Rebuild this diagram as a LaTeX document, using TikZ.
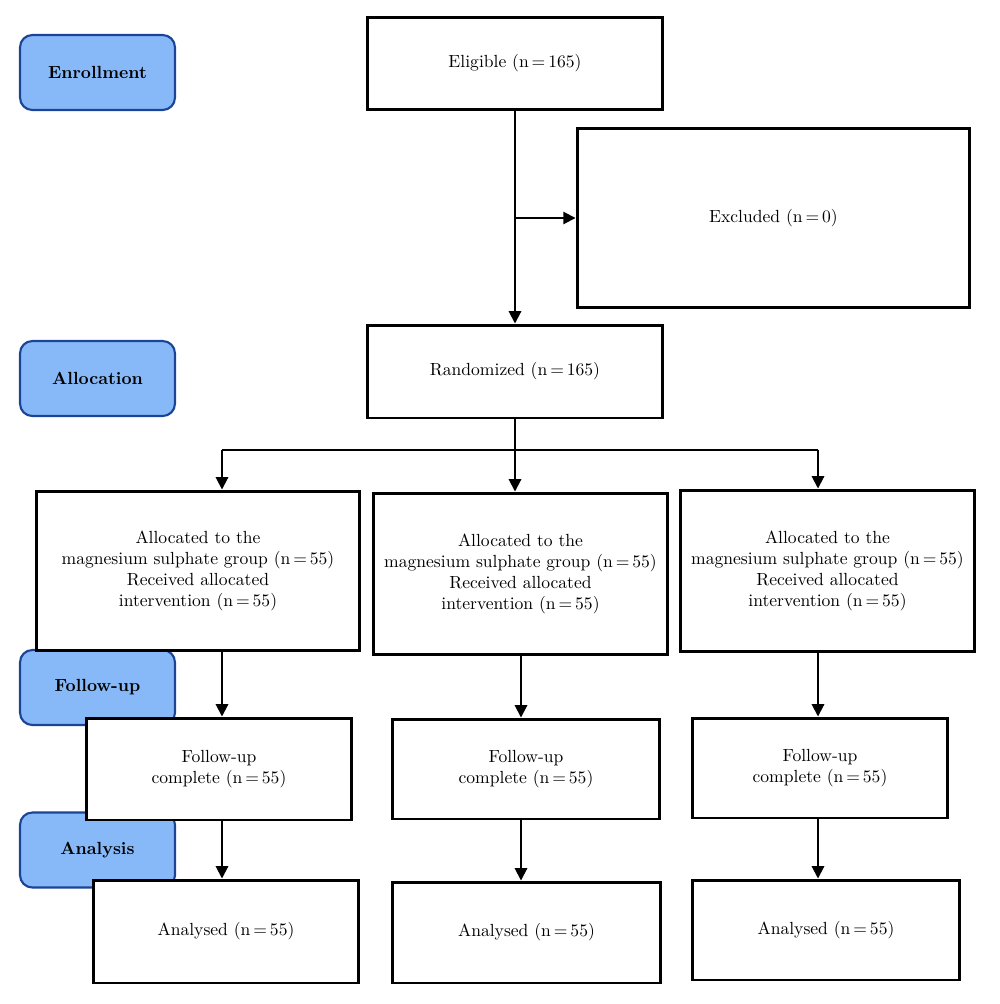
\documentclass[tikz,border=0pt]{standalone}
\usepackage{amsmath}
\usepackage{tikz}
\usetikzlibrary{calc, positioning, arrows.meta}

\definecolor{stagefill}{RGB}{135,185,248}
\definecolor{stageline}{RGB}{28,68,150}

\begin{document}
\begin{tikzpicture}[x=0.02cm, y=-0.02cm,
    stage/.style={rectangle, rounded corners=7pt, fill=stagefill, draw=stageline,
        line width=1.2pt, minimum width=3.1cm, minimum height=1.5cm, font=\bfseries},
    flowbox/.style={rectangle, fill=white, draw=black, line width=1.7pt,
        align=center, inner sep=2pt},
    arr/.style={line width=1.1pt, -{Triangle[width=7pt,length=7pt]}}]
    \useasboundingbox (0,0) rectangle (1000,1004);

    % stage labels on the left
    \node[stage] (enrol) at (97.5,72.5) {Enrollment};
    \node[stage] (alloc) at (97.5,378.5) {Allocation};
    \node[stage] (follow) at (97.5,687.5) {Follow-up};
    \node[stage] (analys) at (97.5,850) {Analysis};

    % columns for the three arms
    \coordinate (colL) at (222,0);
    \coordinate (colM) at (521,0);
    \coordinate (colR) at (818,0);

    \node[flowbox, minimum width=5.92cm, minimum height=1.86cm] (elig) at (515,63.5) {Eligible (n\,=\,165)};
    \node[flowbox, minimum width=7.86cm, minimum height=3.6cm] (excl) at (773.5,218) {Excluded (n\,=\,0)};
    \node[flowbox, minimum width=5.92cm, minimum height=1.86cm] (rand) at (515,371.5) {Randomized (n\,=\,165)};

    \node[flowbox, minimum width=6.48cm, minimum height=3.2cm] (allocL) at (198,571)
        {Allocated to the\\magnesium sulphate group (n\,=\,55)\\Received allocated\\intervention (n\,=\,55)};
    \node[flowbox, minimum width=5.9cm, minimum height=3.24cm] (allocM) at (520.5,574)
        {Allocated to the\\magnesium sulphate group (n\,=\,55)\\Received allocated\\intervention (n\,=\,55)};
    \node[flowbox, minimum width=5.9cm, minimum height=3.24cm] (allocR) at (827.5,571)
        {Allocated to the\\magnesium sulphate group (n\,=\,55)\\Received allocated\\intervention (n\,=\,55)};

    \node[flowbox, minimum width=5.32cm, minimum height=2.04cm] (fuL) at (219,769) {Follow-up\\complete (n\,=\,55)};
    \node[flowbox, minimum width=5.36cm, minimum height=2.0cm] (fuM) at (526,769) {Follow-up\\complete (n\,=\,55)};
    \node[flowbox, minimum width=5.12cm, minimum height=2.0cm] (fuR) at (820,768) {Follow-up\\complete (n\,=\,55)};

    \node[flowbox, minimum width=5.32cm, minimum height=2.06cm] (anaL) at (226,931.5) {Analysed (n\,=\,55)};
    \node[flowbox, minimum width=5.38cm, minimum height=2.02cm] (anaM) at (526.5,932.5) {Analysed (n\,=\,55)};
    \node[flowbox, minimum width=5.36cm, minimum height=2.0cm] (anaR) at (826,930) {Analysed (n\,=\,55)};

    % connectors
    \draw[arr] (elig) -- (rand);
    \draw[arr] (elig.south |- excl.west) -- (excl.west);
    \coordinate (bus) at (515,450);
    \draw[line width=1.1pt] (colL |- bus) -- (colR |- bus);
    \draw[arr] (rand) -- (rand.south |- allocM.north);
    \draw[arr] (colL |- bus) -- (colL |- allocL.north);
    \draw[arr] (colR |- bus) -- (colR |- allocR.north);

    \draw[arr] (colL |- allocL.south) -- (colL |- fuL.north);
    \draw[arr] (colL |- fuL.south) -- (colL |- anaL.north);
    \draw[arr] (colM |- allocM.south) -- (colM |- fuM.north);
    \draw[arr] (colM |- fuM.south) -- (colM |- anaM.north);
    \draw[arr] (colR |- allocR.south) -- (colR |- fuR.north);
    \draw[arr] (colR |- fuR.south) -- (colR |- anaR.north);
\end{tikzpicture}
\end{document}
